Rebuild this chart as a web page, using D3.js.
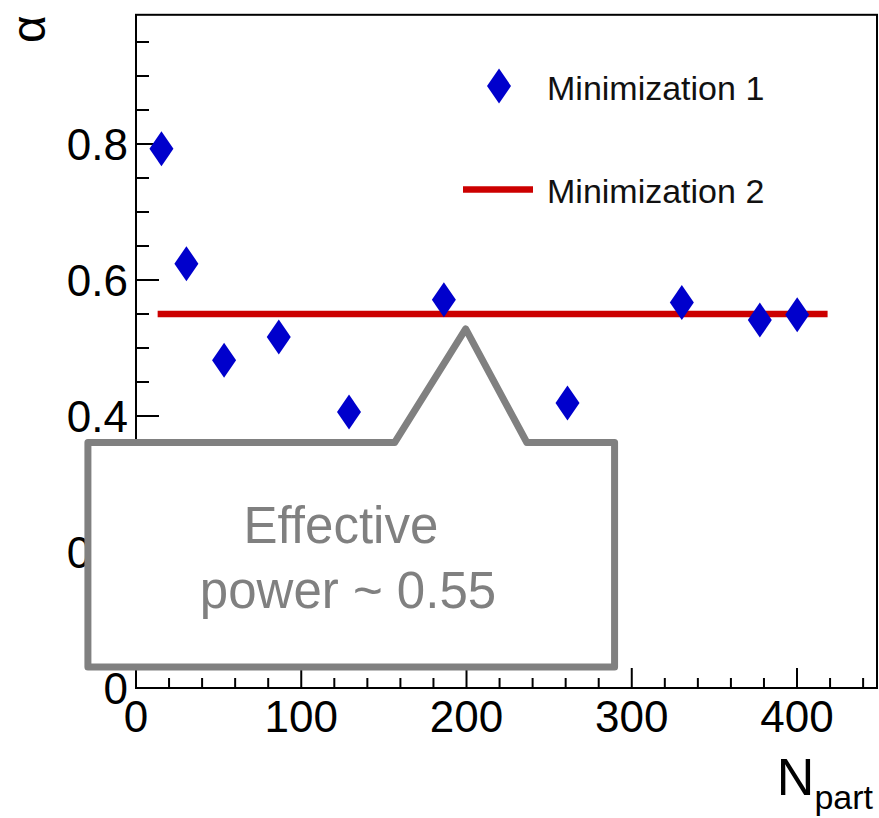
<!DOCTYPE html>
<html>
<head>
<meta charset="utf-8">
<script src="https://cdn.jsdelivr.net/npm/d3@7"></script>
<style>
  html, body { margin: 0; padding: 0; background: #fff; }
  svg { display: block; font-family: "Liberation Sans", Arial, sans-serif; }
</style>
</head>
<body>
<svg id="chart" width="879" height="818"></svg>
<script>
// Fitted exponent alpha versus number of participants
const npart = [15.4, 30.5, 53.3, 86.4, 128.9, 186.3, 261.1, 330.3, 377.5, 400.1];
const alphaMin1 = [0.793, 0.624, 0.482, 0.516, 0.406, 0.571, 0.419, 0.567, 0.541, 0.549];

// Second minimization: one common exponent over the full range
const alphaMin2 = 0.55;
const min2Range = [13.1, 418.5];

const xMajorTicks = [0, 100, 200, 300, 400];
const xMinorStep = 20;
const yMajorTicks = [0, 0.2, 0.4, 0.6, 0.8];
const yMinorStep = 0.05;

const legendLabels = ["Minimization 1", "Minimization 2"];
const calloutLines = ["Effective ", "power ~ 0.55"];

// Callout outline in data units: box with a pointer towards the line
const calloutX = [-29.1, 156.5, 199.5, 236.5, 289.6];
const calloutY = [0.031, 0.361, 0.528];

const svg = d3.select("#chart");
const x = d3.scaleLinear().domain([0, 448.4]).range([136, 877]);
const y = d3.scaleLinear().domain([0, 0.99]).range([688, 14.8]);

const BLUE = "#0000cc", RED = "#cc0000", GRAY = "#808080";

// Frame
svg.append("rect")
  .attr("x", x(0)).attr("y", y(0.99))
  .attr("width", x(448.4) - x(0)).attr("height", y(0) - y(0.99))
  .attr("fill", "none").attr("stroke", "#000").attr("stroke-width", 2);

// X axis ticks (drawn inward) and labels
const xMinor = d3.range(0, 448.4, xMinorStep);
const xAxis = svg.append("g");
xAxis.selectAll("line").data(xMinor).join("line")
  .attr("x1", d => x(d)).attr("x2", d => x(d))
  .attr("y1", y(0))
  .attr("y2", d => y(0) - (xMajorTicks.includes(d) ? 20 : 10))
  .attr("stroke", "#000").attr("stroke-width", 2);
xAxis.selectAll("text").data(xMajorTicks).join("text")
  .attr("x", d => x(d)).attr("y", 732)
  .attr("text-anchor", "middle")
  .attr("font-size", 44).attr("fill", "#000")
  .text(d => d3.format("d")(d));

// Y axis ticks and labels
const yMinor = d3.range(0, 0.99, yMinorStep).map(v => +v.toFixed(2));
const yAxis = svg.append("g");
yAxis.selectAll("line").data(yMinor).join("line")
  .attr("x1", x(0))
  .attr("x2", d => x(0) + (yMajorTicks.some(t => Math.abs(t - d) < 1e-6) ? 23 : 13))
  .attr("y1", d => y(d)).attr("y2", d => y(d))
  .attr("stroke", "#000").attr("stroke-width", 2);
yAxis.selectAll("text").data(yMajorTicks).join("text")
  .attr("x", 128).attr("y", d => y(d))
  .attr("dy", "0.36em")
  .attr("text-anchor", "end")
  .attr("font-size", 44).attr("fill", "#000")
  .text(d => d === 0 ? "0" : d3.format(".1f")(d));

// Axis titles
svg.append("text")
  .attr("transform", "translate(45,29) rotate(-90)")
  .attr("text-anchor", "middle")
  .attr("font-size", 48).attr("fill", "#000")
  .text("α");

const xt = svg.append("text")
  .attr("x", 873).attr("y", 795)
  .attr("text-anchor", "end")
  .attr("fill", "#000");
xt.append("tspan").attr("font-size", 52).text("N");
xt.append("tspan").attr("font-size", 34).attr("dy", 14).text("part");

// Minimization 2 line
svg.append("line")
  .attr("x1", x(min2Range[0])).attr("x2", x(min2Range[1]))
  .attr("y1", y(alphaMin2)).attr("y2", y(alphaMin2))
  .attr("stroke", RED).attr("stroke-width", 6.5);

// Minimization 1 points
const diamond = "M0,-17.5L12,0L0,17.5L-12,0Z";
svg.append("g").selectAll("path").data(npart).join("path")
  .attr("d", diamond)
  .attr("transform", (d, i) => `translate(${x(d)},${y(alphaMin1[i])})`)
  .attr("fill", BLUE);

// Legend
const legend = svg.append("g");
legend.append("path").attr("d", diamond)
  .attr("transform", "translate(499,86)").attr("fill", BLUE);
legend.append("line")
  .attr("x1", 463).attr("x2", 533).attr("y1", 189.5).attr("y2", 189.5)
  .attr("stroke", RED).attr("stroke-width", 6.5);
legend.selectAll("text").data(legendLabels).join("text")
  .attr("x", 547).attr("y", (d, i) => i === 0 ? 100 : 203)
  .attr("font-size", 34).attr("fill", "#111")
  .text(d => d);

// Callout annotation
const cx = calloutX.map(x), cy = calloutY.map(y);
const calloutPts = [
  [cx[0], cy[1]], [cx[1], cy[1]], [cx[2], cy[2]], [cx[3], cy[1]],
  [cx[4], cy[1]], [cx[4], cy[0]], [cx[0], cy[0]]
];
svg.append("path")
  .attr("d", d3.line()(calloutPts) + "Z")
  .attr("fill", "#fff")
  .attr("stroke", GRAY).attr("stroke-width", 7)
  .attr("stroke-linejoin", "round");

svg.append("g").selectAll("text").data(calloutLines).join("text")
  .attr("x", 348).attr("y", (d, i) => i === 0 ? 543 : 608)
  .attr("text-anchor", "middle")
  .attr("font-size", 51).attr("fill", GRAY)
  .attr("xml:space", "preserve")
  .style("white-space", "pre")
  .text(d => d);
</script>
</body>
</html>
